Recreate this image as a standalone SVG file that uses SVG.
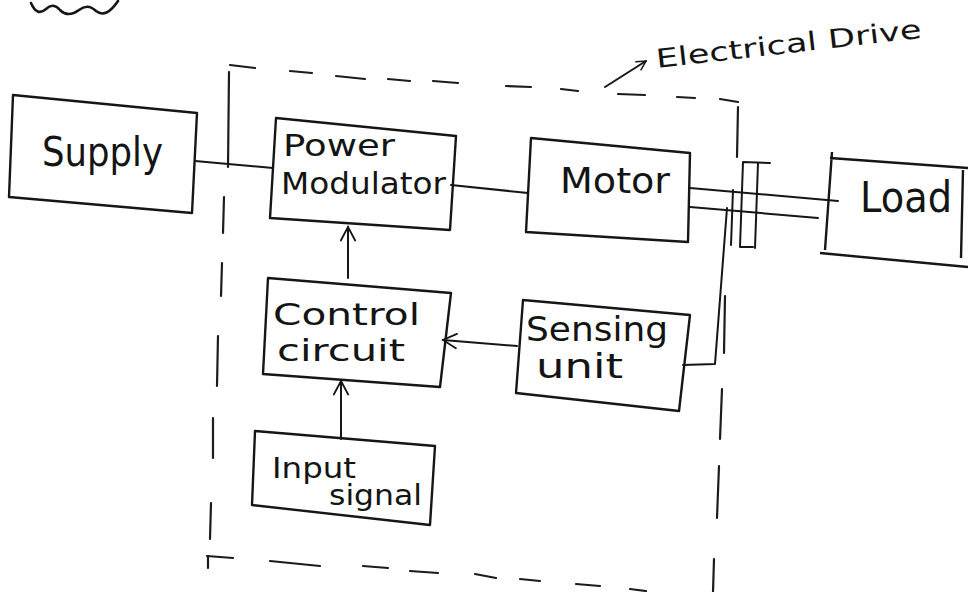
<svg xmlns="http://www.w3.org/2000/svg" width="968" height="592" viewBox="0 0 968 592">
  <defs>
    <style>
      .box { fill: none; stroke: #161616; stroke-width: 2.4; stroke-linejoin: round; }
      .line { fill: none; stroke: #161616; stroke-width: 2; stroke-linecap: round; stroke-linejoin: round; }
      .dash { fill: none; stroke: #1c1c1c; stroke-width: 2.2; stroke-linecap: round; }
      .label { font-family: "DejaVu Sans", "Liberation Sans", sans-serif; fill: #141414; }
    </style>
    <marker id="arrow" viewBox="0 0 20 20" refX="18" refY="10" markerWidth="18" markerHeight="18" markerUnits="userSpaceOnUse" orient="auto">
      <path d="M3,2 L18,10 L3,18" fill="none" stroke="#161616" stroke-width="2" stroke-linecap="round"/>
    </marker>
    <marker id="arrowSmall" viewBox="0 0 20 20" refX="18" refY="10" markerWidth="12" markerHeight="12" markerUnits="userSpaceOnUse" orient="auto">
      <path d="M3,2 L18,10 L3,18" fill="none" stroke="#161616" stroke-width="2.5" stroke-linecap="round"/>
    </marker>
  </defs>

  <rect x="0" y="0" width="968" height="592" fill="#ffffff"/>

  <!-- squiggle mark top-left -->
  <path d="M31,3 Q37,17 46,9 Q53,2 60,10 Q68,18 79,10 Q88,3 96,11 Q106,19 118,1" fill="none" stroke="#161616" stroke-width="2.6" stroke-linecap="round"/>

  <!-- Electrical drive boundary -->
  <g id="electrical-drive">
    <path class="dash" d="M230,65 L255,68 M290,71 L312,73 M336,76 L365,79 M388,79 L410,81 M433,81 L458,83 M506,86 L531,87 M561,89 L578,91 M618,94 L645,95 M677,97 L695,98 M720,99 L738,102"/>
    <path class="dash" d="M738,107 L737,157 M725,296 L724,353 M722,389 L720,439 M719,466 L717,518 M714,559 L713,592"/>
    <path class="dash" d="M229,72 L228,167 M224,197 L223,233 M222,263 L221,296 M218,336 L217,386 M213,418 L213,458 M211,503 L210,539 M208,556 L208,568"/>
    <path class="dash" d="M207,556 L233,558 M270,561 L320,566 M363,566 L388,568 M410,571 L438,573 M475,574 L496,578 M520,579 L540,581 M576,584 L600,586 M630,589 L646,591"/>
    <line class="line" x1="605" y1="87" x2="646" y2="61" marker-end="url(#arrowSmall)"/>
    <text class="label" x="657" y="68" font-size="26" textLength="267" lengthAdjust="spacingAndGlyphs" transform="rotate(-6.5 657 68)">Electrical Drive</text>
  </g>

  <g id="supply">
    <polygon class="box" points="13,95 197,113 192,213 9,197"/>
    <text class="label" x="42" y="166" font-size="40" textLength="121" lengthAdjust="spacingAndGlyphs">Supply</text>
  </g>

  <g id="power-modulator">
    <polygon class="box" points="276,118 456,136 450,230 270,218"/>
    <text class="label" x="283" y="156" font-size="31" textLength="112" lengthAdjust="spacingAndGlyphs">Power</text>
    <text class="label" x="281" y="194" font-size="31" textLength="165" lengthAdjust="spacingAndGlyphs">Modulator</text>
  </g>

  <g id="motor">
    <polygon class="box" points="531,138 690,153 688,242 526,232"/>
    <text class="label" x="560" y="193" font-size="35" textLength="110" lengthAdjust="spacingAndGlyphs">Motor</text>
  </g>

  <g id="load">
    <path class="box" d="M830,158 L968,168 M820,253 L968,267 M832,152 L825,250 M963,170 L961,258"/>
    <text class="label" x="860" y="212" font-size="42" textLength="92" lengthAdjust="spacingAndGlyphs">Load</text>
  </g>

  <g id="coupling">
    <path class="line" d="M770,163 L743,162 L740,247 L753,247"/>
    <line class="line" x1="758" y1="163" x2="755" y2="248"/>
    <line class="line" x1="733" y1="190" x2="731" y2="245"/>
  </g>

  <g id="control-circuit">
    <polygon class="box" points="268,278 451,293 440,387 263,374"/>
    <text class="label" x="273" y="325" font-size="31" textLength="147" lengthAdjust="spacingAndGlyphs">Control</text>
    <text class="label" x="277" y="361" font-size="31" textLength="128" lengthAdjust="spacingAndGlyphs">circuit</text>
  </g>

  <g id="sensing-unit">
    <polygon class="box" points="523,300 690,315 679,411 516,393"/>
    <text class="label" x="526" y="341" font-size="33" textLength="142" lengthAdjust="spacingAndGlyphs">Sensing</text>
    <text class="label" x="536" y="378" font-size="33" textLength="87" lengthAdjust="spacingAndGlyphs">unit</text>
  </g>

  <g id="input-signal">
    <polygon class="box" points="255,431 435,446 430,525 252,505"/>
    <text class="label" x="272" y="478" font-size="29" textLength="84" lengthAdjust="spacingAndGlyphs">Input</text>
    <text class="label" x="329" y="505" font-size="29" textLength="93" lengthAdjust="spacingAndGlyphs">signal</text>
  </g>

  <g id="connectors">
    <line class="line" x1="195" y1="161" x2="273" y2="168"/>
    <line class="line" x1="451" y1="185" x2="528" y2="193"/>
    <line class="line" x1="690" y1="188" x2="838" y2="201"/>
    <line class="line" x1="690" y1="207" x2="818" y2="218"/>
    <polyline class="line" points="727,208 715,364 683,365"/>
    <line class="line" x1="348" y1="278" x2="348" y2="227" marker-end="url(#arrow)"/>
    <line class="line" x1="517" y1="346" x2="443" y2="340" marker-end="url(#arrow)"/>
    <line class="line" x1="341" y1="439" x2="341" y2="381" marker-end="url(#arrow)"/>
  </g>
</svg>
